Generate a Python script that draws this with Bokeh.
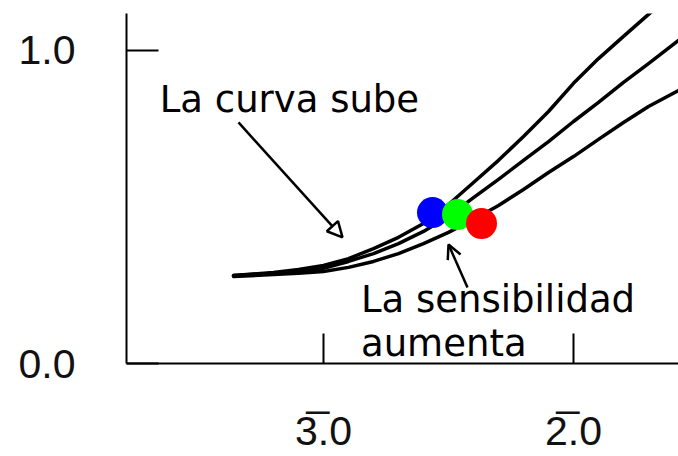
from bokeh.plotting import figure
from bokeh.models import FixedTicker, Label, Arrow, NormalHead, OpenHead, Range1d
from bokeh.embed import file_html
from bokeh.resources import INLINE

# Data (log exposure vs density)
log_exposure = [-3.36, -3.2, -3.1, -3.0, -2.9, -2.8, -2.7, -2.6, -2.5, -2.4, -2.3, -2.2, -2.1, -2.0, -1.9, -1.8, -1.7, -1.58]
density_a = [0.281, 0.291, 0.300, 0.313, 0.335, 0.367, 0.403, 0.447, 0.508, 0.578, 0.649, 0.725, 0.805, 0.895, 0.974, 1.045, 1.115, 1.198]
density_b = [0.281, 0.288, 0.294, 0.304, 0.326, 0.351, 0.383, 0.422, 0.470, 0.530, 0.588, 0.649, 0.709, 0.773, 0.834, 0.898, 0.958, 1.032]
density_c = [0.278, 0.284, 0.288, 0.294, 0.307, 0.326, 0.351, 0.383, 0.419, 0.460, 0.505, 0.556, 0.610, 0.661, 0.716, 0.770, 0.821, 0.872]

dot_x = [-2.564, -2.464, -2.368]
dot_y = [0.482, 0.476, 0.447]
dot_colors = ["#0000FF", "#00FF00", "#FF0000"]

x_ticks = [-3.0, -2.0]
x_tick_labels = ["3\u0305.0", "2\u0305.0"]
y_ticks = [0.0, 1.0]
y_tick_labels = ["0.0", "1.0"]

p = figure(width=678, height=456, output_backend="svg", toolbar_location=None,
           x_range=Range1d(-3.788, -1.58), y_range=Range1d(0.0, 1.118),
           min_border_left=126, min_border_right=0, min_border_top=13, min_border_bottom=93)
p.outline_line_color = None
p.xgrid.visible = False
p.ygrid.visible = False
p.background_fill_color = "white"
p.border_fill_color = "white"

for ax, ticks, labels in ((p.xaxis[0], x_ticks, x_tick_labels), (p.yaxis[0], y_ticks, y_tick_labels)):
    ax.ticker = FixedTicker(ticks=ticks)
    ax.major_label_overrides = {t: l for t, l in zip(ticks, labels)}
    ax.minor_tick_line_color = None
    ax.major_tick_out = 0
    ax.axis_line_width = 2
    ax.axis_line_color = "black"
    ax.major_tick_line_width = 2
    ax.major_tick_line_color = "black"
    ax.major_label_text_font = "Liberation Sans"
    ax.major_label_text_font_size = "41px"
    ax.major_label_text_color = "#111111"

p.xaxis[0].major_tick_in = 30
p.xaxis[0].major_label_standoff = 44
p.yaxis[0].major_tick_in = 32
p.yaxis[0].major_label_standoff = 51

for dens in (density_a, density_b, density_c):
    p.line(log_exposure, dens, line_color="black", line_width=3.5, line_join="round", line_cap="round")

for x, y, c in zip(dot_x, dot_y, dot_colors):
    p.scatter([x], [y], size=31, fill_color=c, line_color=None)

p.add_layout(Arrow(end=NormalHead(size=15, fill_color="white", line_color="black", line_width=2.5),
                   x_start=-3.34, y_start=0.770, x_end=-2.924, y_end=0.403,
                   line_width=2.5, line_color="black"))
p.add_layout(Arrow(end=OpenHead(size=14, line_color="black", line_width=2.5),
                   x_start=-2.424, y_start=0.243, x_end=-2.5, y_end=0.380,
                   line_width=2.5, line_color="black"))

for txt, x, y in (("La curva sube", -3.655, 0.844),
                  ("La sensibilidad", -2.85, 0.205),
                  ("aumenta", -2.85, 0.064)):
    p.add_layout(Label(x=x, y=y, text=txt, text_font="DejaVu Sans", text_font_size="37px",
                       text_color="black", text_baseline="alphabetic", text_align="left"))

open("out.html", "w").write(file_html(p, INLINE))
